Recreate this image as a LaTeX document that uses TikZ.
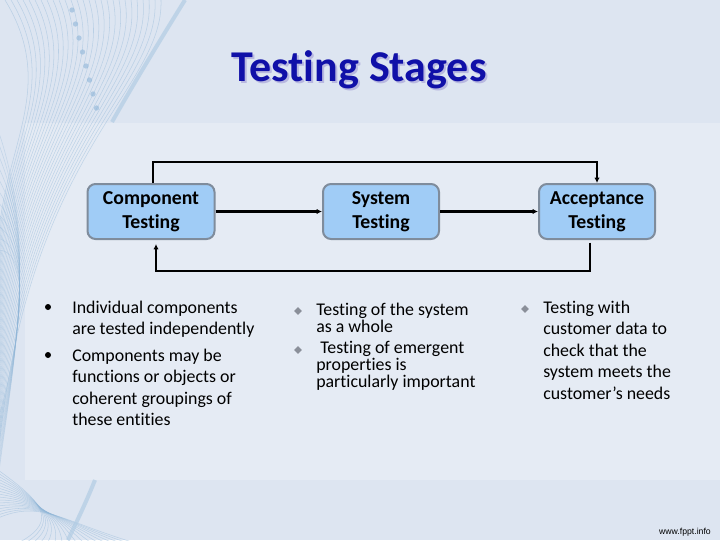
\documentclass[tikz,border=0pt]{standalone}
\usepackage{fontspec}
\setmainfont{Carlito}[Ligatures=NoCommon]
\newfontfamily\footfont{Liberation Sans}
\usetikzlibrary{arrows.meta,shapes.geometric}
\definecolor{bgc}{HTML}{DDE5F1}
\definecolor{panelc}{HTML}{E5EBF4}
\definecolor{boxfill}{HTML}{A0CCF6}
\definecolor{boxdraw}{HTML}{7F8C9C}
\definecolor{titlec}{HTML}{1010A8}
\definecolor{wavec}{HTML}{8FB6D8}
\definecolor{diamc}{HTML}{8A8F99}
\tikzset{
  stagebox/.style={draw=boxdraw, line width=1.5pt, fill=boxfill, rounded corners=6pt, minimum height=55*0.75pt, align=center, font=\fontsize{14.8}{18}\selectfont\bfseries, inner sep=0pt},
  flow/.style={line width=1.6pt, -{Latex[length=4pt,width=4pt]}},
  itemtxt/.style={anchor=base west, inner sep=0pt, font=\fontsize{13.4}{16}\selectfont},
  dot/.style={circle, fill=black, inner sep=0pt, minimum size=4.5pt},
  diam/.style={diamond, fill=diamc, inner sep=0pt, minimum size=6pt},
}
\begin{document}
\begin{tikzpicture}[x=0.75pt,y=-0.75pt]
\useasboundingbox (0,0) rectangle (720,540);
\fill[bgc] (0,0) rectangle (720,540);
\fill[panelc] (25,123) rectangle (720,480);
% decorative waves (top-left)
\foreach \i in {0,...,26}{
  \draw[wavec, opacity=0.45, line width=0.4pt] (5+6*\i,0) .. controls (60+4*\i,90) and (0+\i,150) .. (-2,250+8*\i);
}
\foreach \i in {0,...,10}{
  \draw[wavec, opacity=0.35, line width=0.4pt] (-2,130+12*\i) .. controls (40,250) and (10,380) .. (-2,480-6*\i);
}
\draw[wavec!70!white, line width=3pt, opacity=0.7] (185,0) .. controls (160,40) and (130,90) .. (112,122);
\foreach \i in {0,...,7}{
  \fill[wavec, opacity=0.6] (72+3.5*\i,10+14*\i) circle (2pt);
}
% bottom-left waves
\foreach \i in {0,...,16}{
  \draw[wavec, opacity=0.45, line width=0.4pt] (-2,470+3*\i) .. controls (40,500) and (60,520) .. (20+7*\i,542);
}
\draw[wavec!70!white, line width=3pt, opacity=0.7] (95,480) .. controls (85,505) and (75,525) .. (68,540);
% title
\node[font=\fontsize{33}{36}\selectfont\bfseries, text=gray!60!blue!40, anchor=base] (titleshadow) at (361,83) {Testing Stages};
\node[font=\fontsize{33}{36}\selectfont\bfseries, text=titlec, anchor=base] (title) at (359,81) {Testing Stages};
% boxes
\node[stagebox, minimum width=127*0.75pt] (comp) at (151,211.5) {Component\\Testing};
\node[stagebox, minimum width=116*0.75pt] (sys) at (381,211.5) {System\\Testing};
\node[stagebox, minimum width=116*0.75pt] (acc) at (597,211.5) {Acceptance\\Testing};
% connectors
\draw[flow] (comp.east) -- (sys.west);
\draw[flow] (sys.east) -- (acc.west);
\coordinate (t1) at (153,162);
\coordinate (t2) at (597,162);
\draw[flow] (comp.north -| t1) -- (t1) -- (t2) -- (acc.north);
\coordinate (b1) at (590,271);
\coordinate (b2) at (156,271);
\draw[flow] ([yshift=-2pt]acc.south -| b1) -- (b1) -- (b2) -- ([yshift=-3pt]comp.south -| b2);
% column 1
\node[dot] (d1) at (48,307) {};
\node[itemtxt] (l1a) at (72,313) {Individual components};
\node[itemtxt] (l1b) at (72,334.5) {are tested independently};
\node[dot] (d2) at (48,355) {};
\node[itemtxt] (l1c) at (72,361) {Components may be};
\node[itemtxt] (l1d) at (72,382.5) {functions or objects or};
\node[itemtxt] (l1e) at (72,404) {coherent groupings of};
\node[itemtxt] (l1f) at (72,425.5) {these entities};
% column 2
\node[diam] (d3) at (298,311) {};
\node[itemtxt] (l2a) at (316,315) {Testing of the system};
\node[itemtxt] (l2b) at (316,332) {as a whole};
\node[diam] (d4) at (298,350) {};
\node[itemtxt] (l2c) at (316,353.5) {\ Testing of emergent};
\node[itemtxt] (l2d) at (316,370.5) {properties is};
\node[itemtxt] (l2e) at (316,387.5) {particularly important};
% column 3
\node[diam] (d5) at (525,309) {};
\node[itemtxt] (l3a) at (543,313) {Testing with};
\node[itemtxt] (l3b) at (543,334.5) {customer data to};
\node[itemtxt] (l3c) at (543,356) {check that the};
\node[itemtxt] (l3d) at (543,377.5) {system meets the};
\node[itemtxt] (l3e) at (543,399) {customer’s needs};
% footer
\node[font=\footfont\fontsize{6.5}{8}\selectfont, anchor=base east, inner sep=0pt] (foot) at (711,534) {www.fppt.info};
\end{tikzpicture}
\end{document}
